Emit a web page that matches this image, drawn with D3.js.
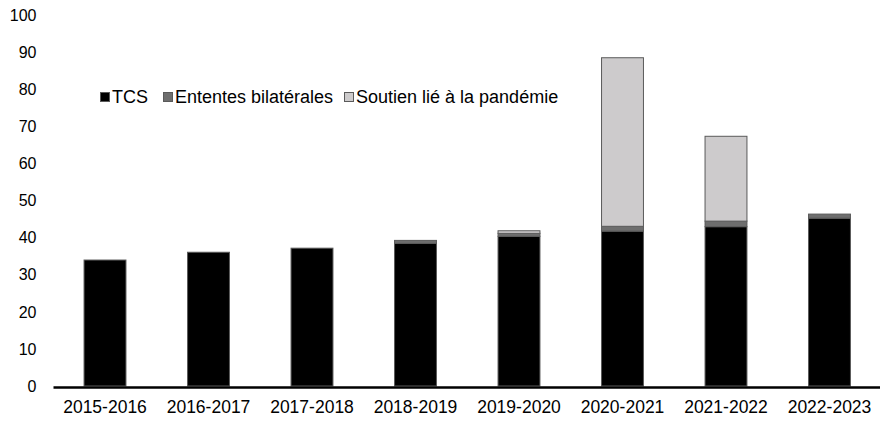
<!DOCTYPE html>
<head>
<meta charset="utf-8">
<title>Transferts</title>
<script src="https://cdnjs.cloudflare.com/ajax/libs/d3/7.8.5/d3.min.js"></script>
<style>
    body { margin: 0; background: #fff; }
    text { font-family: "Liberation Sans", Arial, sans-serif; fill: #000; }
</style>
</head>
<body>
<script>
    // data (milliards $)
    var years = ["2015-2016", "2016-2017", "2017-2018", "2018-2019", "2019-2020", "2020-2021", "2021-2022", "2022-2023"];
    var tcs = [34.0, 36.1, 37.2, 38.5, 40.4, 41.8, 43.0, 45.3];
    var bilaterales = [0, 0, 0, 0.8, 0.8, 1.3, 1.5, 1.1];
    var pandemie = [0, 0, 0, 0, 0.7, 45.5, 22.9, 0];
    var yTicks = [0, 10, 20, 30, 40, 50, 60, 70, 80, 90, 100];

    var keys = ["TCS", "Ententes bilatérales", "Soutien lié à la pandémie"];
    var colors = ["#000000", "#6e6e6e", "#cdcbcc"];

    var width = 880, height = 422;

    var svg = d3.select("body")
                .append("svg")
                .attr("width", width)
                .attr("height", height);

    var rows = years.map(function(d, i) {
        return {year: d, "TCS": tcs[i], "Ententes bilatérales": bilaterales[i], "Soutien lié à la pandémie": pandemie[i]};
    });

    var x = d3.scaleBand()
        .domain(years)
        .range([53, 881.5])
        .paddingInner(0.595)
        .paddingOuter(0.3);

    var y = d3.scaleLinear()
        .domain([0, 100])
        .range([386, 15.5]);

    var z = d3.scaleOrdinal().domain(keys).range(colors);

    var stack = d3.stack().keys(keys)(rows);

    svg.selectAll("g.layer")
        .data(stack)
        .enter()
        .append("g")
        .attr("class", "layer")
        .attr("fill", function(d) { return z(d.key); })
        .selectAll("rect")
        .data(function(d) { return d.filter(function(p) { return p[1] - p[0] > 0; }); })
        .enter()
        .append("rect")
        .attr("x", function(d) { return x(d.data.year); })
        .attr("width", x.bandwidth())
        .attr("y", function(d) { return y(d[1]); })
        .attr("height", function(d) { return y(d[0]) - y(d[1]); })
        .attr("stroke", "#5a5a5a")
        .attr("stroke-width", 1);

    // y axis: labels only
    var axisY = svg.append("g")
        .attr("transform", "translate(36.5,0)")
        .call(d3.axisLeft(y).tickValues(yTicks).tickSize(0).tickPadding(0));
    axisY.select(".domain").remove();
    axisY.selectAll("text")
        .style("font-family", "'Liberation Sans', Arial, sans-serif")
        .style("font-size", "16px")
        .attr("fill", "#000");

    // x axis
    var axisX = svg.append("g")
        .attr("transform", "translate(0,387)")
        .call(d3.axisBottom(x).tickSize(0).tickPadding(14).tickSizeOuter(0));
    axisX.select(".domain")
        .attr("stroke", "#000")
        .attr("stroke-width", 2.5);
    axisX.selectAll("text")
        .style("font-family", "'Liberation Sans', Arial, sans-serif")
        .style("font-size", "17.5px")
        .attr("fill", "#000");

    // legend
    var legendX = [100, 163, 344];
    var legend = svg.append("g").attr("class", "legend");
    legend.selectAll("rect")
        .data(keys)
        .enter()
        .append("rect")
        .attr("x", function(d, i) { return legendX[i] + 0.5; })
        .attr("y", 92.5)
        .attr("width", 9)
        .attr("height", 9)
        .attr("fill", function(d) { return z(d); })
        .attr("stroke", "#5a5a5a")
        .attr("stroke-width", 1);
    legend.selectAll("text")
        .data(keys)
        .enter()
        .append("text")
        .attr("x", function(d, i) { return legendX[i] + 12; })
        .attr("y", 103)
        .style("font-size", "18px")
        .text(function(d) { return d; });
</script>
</body>
</html>
